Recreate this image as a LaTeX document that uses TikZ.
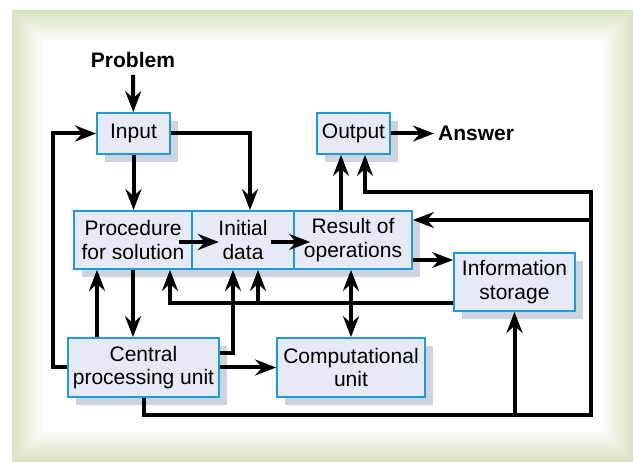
\documentclass[tikz,border=0pt]{standalone}
\usepackage{fontspec}
\setmainfont{Liberation Sans}
\usetikzlibrary{arrows.meta,shadows}
\definecolor{frameg}{HTML}{D9E3C2}
\definecolor{boxfill}{HTML}{E6EAF6}
\definecolor{boxline}{HTML}{1E9BD7}
\definecolor{shadowg}{HTML}{CDD3DF}
\tikzset{
  blk/.style={draw=boxline, line width=1.8pt, fill=boxfill, inner sep=0pt, align=center,
    font=\fontsize{21}{23.5}\selectfont,
    general shadow={fill=shadowg, shadow xshift=8pt, shadow yshift=-8pt}},
  lbl/.style={font=\fontsize{21}{23.5}\selectfont\bfseries, inner sep=4pt},
  con/.style={line width=4pt, black},
  arr/.style={con, -{Stealth[length=21pt,width=16pt,inset=7pt]}},
  darr/.style={con, {Stealth[length=21pt,width=16pt,inset=7pt]}-{Stealth[length=21pt,width=16pt,inset=7pt]}}
}
\begin{document}
\begin{tikzpicture}[x=1pt,y=-1pt]
\useasboundingbox (0,0) rectangle (633,462);
% background frame with soft gradient
\fill[white] (0,0) rectangle (633,462);
\foreach \i in {0,...,32}{
  \pgfmathsetmacro{\pc}{100-\i*3.125}
  \fill[frameg!\pc!white] ({12+\i},{10+\i}) rectangle ({633-\i},{462-\i});
}
\fill[white] (45,43) rectangle (600,429);

% nodes
\node[blk, minimum width=73pt, minimum height=41pt] (in) at (133.5,133.5) {Input};
\node[blk, minimum width=73pt, minimum height=41pt] (out) at (353.5,133.5) {Output};
\node[blk, minimum width=118pt, minimum height=58pt] (proc) at (133,240) {Procedure\\for solution};
\node[blk, minimum width=102pt, minimum height=58pt] (init) at (243,240) {Initial\\data};
\node[blk, minimum width=118pt, minimum height=58pt] (res) at (353,240) {Result of\\operations};
\node[blk, minimum width=121pt, minimum height=58pt] (stor) at (514.5,282) {Information\\storage};
\node[blk, minimum width=151pt, minimum height=59pt] (cpu) at (143.5,367.5) {Central\\processing unit};
\node[blk, minimum width=148pt, minimum height=59pt] (comp) at (351,367.5) {Computational\\unit};
\node[lbl, inner ysep=7pt] (prob) at (133,60) {Problem};
\node[lbl, anchor=west] (ans) at (434,133.5) {Answer};

% helper coordinates
\coordinate (x97) at (97,0);
\coordinate (x170) at (170,0);
\coordinate (x233) at (233,0);
\coordinate (x258) at (258,0);
\coordinate (x341) at (341,0);
\coordinate (x351) at (351,0);
\coordinate (x365) at (365,0);
\coordinate (br) at (591,415);
\coordinate (tr) at (591,192);
\coordinate (rj) at (591,220);
\coordinate (y242) at (0,242);
\coordinate (y260) at (0,260);
\coordinate (y303) at (0,303);
\coordinate (y353) at (0,353);

% connectors
\draw[arr] (prob) -- (in);
\draw[arr] (in.south) -- (in.south |- proc.north);
\draw[arr] (in.east) -| ([xshift=7pt]init.north);
\draw[arr] (cpu.west) -- ++(-14,0) |- (in.west);
\draw[arr] (res.north -| x341) -- (out.south -| x341);
\draw[arr] (cpu.south) |- (br) -- (tr) -| (out.south -| x365);
\draw[arr] (stor.south |- br) -- (stor.south);
\draw[arr] (rj) -- (res.east |- rj);
\draw[arr] ([xshift=-14pt]proc.east |- y242) -- ([xshift=26pt]proc.east |- y242);
\draw[arr] ([xshift=-22pt]res.west |- y242) -- ([xshift=17pt]res.west |- y242);
\draw[arr] (res.east |- y260) -- (stor.west |- y260);
\draw[arr] (stor.west |- y303) -| (proc.south -| x170);
\draw[arr] (x258 |- y303) -- (init.south -| x258);
\draw[arr] (cpu.north -| x97) -- (proc.south -| x97);
\draw[arr] (proc.south) -- (proc.south |- cpu.north);
\draw[arr] (cpu.east |- y353) -| (init.south -| x233);
\draw[arr] (cpu.east) -- (comp.west);
\draw[darr] (res.south -| x351) -- (comp.north -| x351);
\draw[arr] (out.east) -- (ans.west);
\end{tikzpicture}
\end{document}
